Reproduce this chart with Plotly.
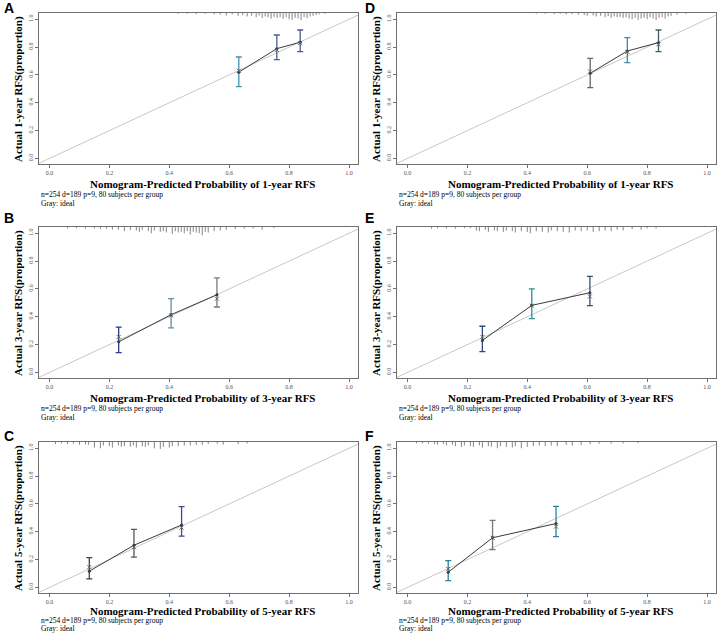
import plotly.graph_objects as go

# panel order: left column A,B,C then right column D,E,F
letters = ["A", "B", "C", "D", "E", "F"]
years = ["1", "3", "5", "1", "3", "5"]
tick_vals = [0.0, 0.2, 0.4, 0.6, 0.8, 1.0]
tick_text = ["0.0", "0.2", "0.4", "0.6", "0.8", "1.0"]
note_line1 = "n=254 d=189 p=9, 80 subjects per group"
note_line2 = "Gray: ideal"

# predicted prob, observed, CI low/high, bias-corrected ("x" marks)
pred_A = [0.632, 0.759, 0.837]
obs_A = [0.620, 0.789, 0.835]
lo_A = [0.516, 0.710, 0.768]
hi_A = [0.729, 0.887, 0.923]
bc_A = [0.630, 0.780, 0.830]

pred_B = [0.231, 0.406, 0.559]
obs_B = [0.220, 0.415, 0.558]
lo_B = [0.143, 0.320, 0.470]
hi_B = [0.325, 0.530, 0.680]
bc_B = [0.255, 0.410, 0.530]

pred_C = [0.133, 0.282, 0.441]
obs_C = [0.117, 0.303, 0.449]
lo_C = [0.061, 0.218, 0.369]
hi_C = [0.214, 0.417, 0.580]
bc_C = [0.146, 0.290, 0.430]

pred_D = [0.610, 0.734, 0.838]
obs_D = [0.612, 0.772, 0.832]
lo_D = [0.509, 0.688, 0.768]
hi_D = [0.719, 0.868, 0.923]
bc_D = [0.625, 0.765, 0.820]

pred_E = [0.250, 0.415, 0.609]
obs_E = [0.230, 0.482, 0.573]
lo_E = [0.150, 0.387, 0.480]
hi_E = [0.332, 0.600, 0.690]
bc_E = [0.255, 0.480, 0.546]

pred_F = [0.136, 0.284, 0.496]
obs_F = [0.109, 0.357, 0.459]
lo_F = [0.049, 0.272, 0.365]
hi_F = [0.192, 0.482, 0.582]
bc_F = [0.133, 0.357, 0.437]

bar_col_A = ["#3f93b3", "#4b5f8f", "#4b5a90"]
bar_col_B = ["#2b3a8c", "#6b8aa0", "#7a7a7a"]
bar_col_C = ["#444444", "#555555", "#3b4c8a"]
bar_col_D = ["#666666", "#3a8fa8", "#3f5f70"]
bar_col_E = ["#2b4a7a", "#2a9090", "#3a5068"]
bar_col_F = ["#2f7fa0", "#777777", "#2f7fa0"]

# rug of predicted values at the top of each panel (position, spike length)
rug_x_A = [0.43, 0.46, 0.49, 0.52, 0.55, 0.57, 0.59, 0.61, 0.63, 0.645, 0.66, 0.675,
           0.69, 0.70, 0.71, 0.72, 0.73, 0.74, 0.75, 0.76, 0.77, 0.78, 0.79, 0.80,
           0.81, 0.82, 0.83, 0.84, 0.85, 0.86, 0.87, 0.88, 0.89, 0.90, 0.92]
rug_h_A = [0.005, 0.005, 0.008, 0.006, 0.010, 0.012, 0.018, 0.010, 0.020, 0.015, 0.025, 0.020,
           0.030, 0.018, 0.035, 0.025, 0.030, 0.040, 0.028, 0.035, 0.030, 0.042, 0.030, 0.045,
           0.050, 0.035, 0.040, 0.050, 0.030, 0.038, 0.025, 0.020, 0.015, 0.010, 0.006]
rug_x_B = [0.06, 0.09, 0.12, 0.15, 0.17, 0.19, 0.21, 0.23, 0.25, 0.27, 0.29, 0.30, 0.31,
           0.33, 0.34, 0.35, 0.37, 0.38, 0.39, 0.41, 0.42, 0.43, 0.44, 0.45, 0.46, 0.47,
           0.48, 0.49, 0.50, 0.51, 0.52, 0.53, 0.55, 0.57, 0.59, 0.62, 0.65, 0.68, 0.71, 0.75]
rug_h_B = [0.010, 0.008, 0.012, 0.010, 0.015, 0.012, 0.018, 0.020, 0.030, 0.022, 0.025, 0.035, 0.020,
           0.030, 0.045, 0.025, 0.035, 0.030, 0.040, 0.050, 0.030, 0.040, 0.035, 0.045, 0.030, 0.055,
           0.035, 0.040, 0.045, 0.060, 0.035, 0.040, 0.030, 0.025, 0.020, 0.015, 0.012, 0.010, 0.020, 0.008]
rug_x_C = [0.02, 0.04, 0.06, 0.08, 0.10, 0.12, 0.13, 0.15, 0.17, 0.18, 0.20, 0.21, 0.23,
           0.24, 0.25, 0.27, 0.28, 0.29, 0.31, 0.32, 0.33, 0.35, 0.37, 0.38, 0.40, 0.41,
           0.43, 0.45, 0.47, 0.49, 0.51, 0.53, 0.56, 0.58, 0.63, 0.66]
rug_h_C = [0.015, 0.010, 0.015, 0.012, 0.020, 0.018, 0.020, 0.040, 0.045, 0.025, 0.030, 0.040, 0.025,
           0.035, 0.030, 0.035, 0.025, 0.040, 0.030, 0.035, 0.025, 0.045, 0.050, 0.035, 0.040, 0.030,
           0.030, 0.025, 0.025, 0.020, 0.020, 0.015, 0.012, 0.020, 0.015, 0.010]
rug_x_D = [0.43, 0.46, 0.49, 0.51, 0.53, 0.55, 0.57, 0.59, 0.60, 0.62, 0.63, 0.645, 0.66,
           0.67, 0.68, 0.69, 0.70, 0.71, 0.72, 0.73, 0.74, 0.75, 0.76, 0.77, 0.78, 0.79,
           0.80, 0.81, 0.82, 0.83, 0.84, 0.85, 0.86, 0.87, 0.88, 0.90, 0.93]
rug_h_D = [0.005, 0.006, 0.008, 0.006, 0.010, 0.008, 0.012, 0.015, 0.020, 0.018, 0.025, 0.020, 0.030,
           0.022, 0.035, 0.025, 0.030, 0.028, 0.035, 0.030, 0.040, 0.045, 0.035, 0.050, 0.040, 0.035,
           0.045, 0.030, 0.040, 0.050, 0.035, 0.030, 0.040, 0.025, 0.020, 0.012, 0.006]
rug_x_E = [0.08, 0.10, 0.13, 0.16, 0.19, 0.21, 0.23, 0.24, 0.26, 0.27, 0.29, 0.30, 0.32,
           0.33, 0.35, 0.36, 0.38, 0.40, 0.41, 0.43, 0.45, 0.47, 0.48, 0.50, 0.52, 0.54,
           0.56, 0.58, 0.60, 0.62, 0.64, 0.66, 0.68, 0.70, 0.72, 0.75, 0.78, 0.80, 0.83]
rug_h_E = [0.012, 0.008, 0.010, 0.012, 0.008, 0.010, 0.025, 0.030, 0.020, 0.035, 0.025, 0.030, 0.035,
           0.025, 0.030, 0.040, 0.030, 0.035, 0.045, 0.030, 0.035, 0.040, 0.025, 0.030, 0.035, 0.040,
           0.025, 0.030, 0.025, 0.035, 0.030, 0.025, 0.030, 0.020, 0.025, 0.015, 0.020, 0.010, 0.010]
rug_x_F = [0.03, 0.05, 0.07, 0.09, 0.10, 0.12, 0.13, 0.15, 0.16, 0.18, 0.19, 0.21, 0.22,
           0.24, 0.25, 0.27, 0.28, 0.30, 0.31, 0.33, 0.35, 0.36, 0.38, 0.40, 0.42, 0.44,
           0.46, 0.48, 0.50, 0.53, 0.55, 0.58, 0.61, 0.64, 0.68, 0.72, 0.77]
rug_h_F = [0.010, 0.010, 0.012, 0.015, 0.020, 0.015, 0.025, 0.020, 0.030, 0.035, 0.025, 0.030, 0.035,
           0.025, 0.040, 0.030, 0.035, 0.045, 0.030, 0.035, 0.040, 0.030, 0.045, 0.035, 0.030, 0.025,
           0.030, 0.025, 0.030, 0.020, 0.025, 0.020, 0.015, 0.012, 0.012, 0.010, 0.008]

panels = [
    (pred_A, obs_A, lo_A, hi_A, bc_A, bar_col_A, rug_x_A, rug_h_A),
    (pred_B, obs_B, lo_B, hi_B, bc_B, bar_col_B, rug_x_B, rug_h_B),
    (pred_C, obs_C, lo_C, hi_C, bc_C, bar_col_C, rug_x_C, rug_h_C),
    (pred_D, obs_D, lo_D, hi_D, bc_D, bar_col_D, rug_x_D, rug_h_D),
    (pred_E, obs_E, lo_E, hi_E, bc_E, bar_col_E, rug_x_E, rug_h_E),
    (pred_F, obs_F, lo_F, hi_F, bc_F, bar_col_F, rug_x_F, rug_h_F),
]

W, H = 718, 634
box_tops = [13, 227, 442]
letter_y = [7.5, 218, 436]
# offsets below box bottom: x title, note 1, note 2 (last row is tighter)
below = [(20, 30.5, 39), (20, 30.5, 39), (17.5, 27, 35.5)]
col_shift = 358
XR = [-0.035, 1.03]
YR = [-0.04, 1.045]
serif = "Liberation Serif"

fig = go.Figure()
layout = dict(width=W, height=H, margin=dict(l=0, r=0, t=0, b=0),
              paper_bgcolor="white", plot_bgcolor="white", showlegend=False)
annotations = []

for i, (px_, ob, lo, hi, bc, cols, rx, rh) in enumerate(panels):
    col, row = i // 3, i % 3
    n = "" if i == 0 else str(i + 1)
    xa, ya = "x" + n, "y" + n
    x0 = 39 + col * col_shift
    x1 = 358 + col * col_shift
    y0 = box_tops[row]
    y1 = y0 + 151
    dt, d1, d2 = below[row]

    layout["xaxis" + n] = dict(
        domain=[x0 / W, x1 / W], range=XR, anchor=ya,
        showgrid=False, zeroline=False, showline=True, mirror=True,
        linecolor="#707070", linewidth=1.2, ticks="outside", ticklen=3,
        tickcolor="#707070", tickvals=tick_vals, ticktext=tick_text,
        tickfont=dict(family=serif, size=6, color="#555555"))
    layout["yaxis" + n] = dict(
        domain=[1 - y1 / H, 1 - y0 / H], range=YR, anchor=xa,
        showgrid=False, zeroline=False, showline=True, mirror=True,
        linecolor="#707070", linewidth=1.2, ticks="outside", ticklen=3,
        tickcolor="#707070", tickvals=tick_vals, ticktext=tick_text,
        tickangle=-90, tickfont=dict(family=serif, size=6, color="#555555"))

    # ideal line
    fig.add_trace(go.Scatter(x=[-0.1, 1.1], y=[-0.1, 1.1], mode="lines",
                             line=dict(color="#c8c8c8", width=1),
                             xaxis=xa, yaxis=ya, hoverinfo="skip"))

    # rug at top
    rxs, rys = [], []
    for xv, hv in zip(rx, rh):
        rxs += [xv, xv, None]
        rys += [YR[1], YR[1] - hv, None]
    fig.add_trace(go.Scatter(x=rxs, y=rys, mode="lines",
                             line=dict(color="#666666", width=0.8),
                             xaxis=xa, yaxis=ya, hoverinfo="skip"))

    # error bars, each with its own colour
    for k in range(len(px_)):
        fig.add_trace(go.Scatter(
            x=[px_[k]], y=[ob[k]], mode="markers",
            marker=dict(size=1, color=cols[k], opacity=0),
            error_y=dict(type="data", symmetric=False,
                         array=[hi[k] - ob[k]], arrayminus=[ob[k] - lo[k]],
                         color=cols[k], thickness=1.3, width=3),
            xaxis=xa, yaxis=ya))

    # observed line with dots
    fig.add_trace(go.Scatter(x=px_, y=ob, mode="lines+markers",
                             line=dict(color="#3a3a3a", width=1),
                             marker=dict(size=3, color="#3a3a3a"),
                             xaxis=xa, yaxis=ya))
    # bias-corrected x marks
    fig.add_trace(go.Scatter(x=px_, y=bc, mode="markers",
                             marker=dict(symbol="x-thin", size=4,
                                         line=dict(color="#666666", width=1)),
                             xaxis=xa, yaxis=ya))

    # texts
    annotations.append(dict(
        text="<b>%s</b>" % letters[i], xref="paper", yref="paper",
        x=(2 + col * 361) / W, y=1 - letter_y[row] / H,
        xanchor="left", yanchor="middle", showarrow=False,
        font=dict(family="Liberation Sans", size=14, color="black")))
    annotations.append(dict(
        text="<b>Nomogram-Predicted Probability of %s-year RFS</b>" % years[i],
        xref="paper", yref="paper", x=(202 + col * col_shift) / W,
        y=1 - (y1 + dt) / H, xanchor="center", yanchor="middle", showarrow=False,
        font=dict(family=serif, size=11, color="black")))
    annotations.append(dict(
        text="<b>Actual %s-year RFS(proportion)</b>" % years[i],
        xref="paper", yref="paper", x=(18 + col * col_shift) / W,
        y=1 - (y0 + 76) / H, xanchor="center", yanchor="middle",
        textangle=-90, showarrow=False,
        font=dict(family=serif, size=11, color="black")))
    annotations.append(dict(
        text=note_line1, xref="paper", yref="paper", x=(39 + col * col_shift) / W,
        y=1 - (y1 + d1) / H, xanchor="left", yanchor="middle", showarrow=False,
        font=dict(family=serif, size=7.5, color="black")))
    annotations.append(dict(
        text=note_line2, xref="paper", yref="paper", x=(39 + col * col_shift) / W,
        y=1 - (y1 + d2) / H, xanchor="left", yanchor="middle", showarrow=False,
        font=dict(family=serif, size=7.5, color="black")))

layout["annotations"] = annotations
fig.update_layout(**layout)
# page body margin would push the fixed-size figure 8px down/right
fig.write_html("out.html", config={"displayModeBar": False},
               post_script="document.body.style.margin='0';")
